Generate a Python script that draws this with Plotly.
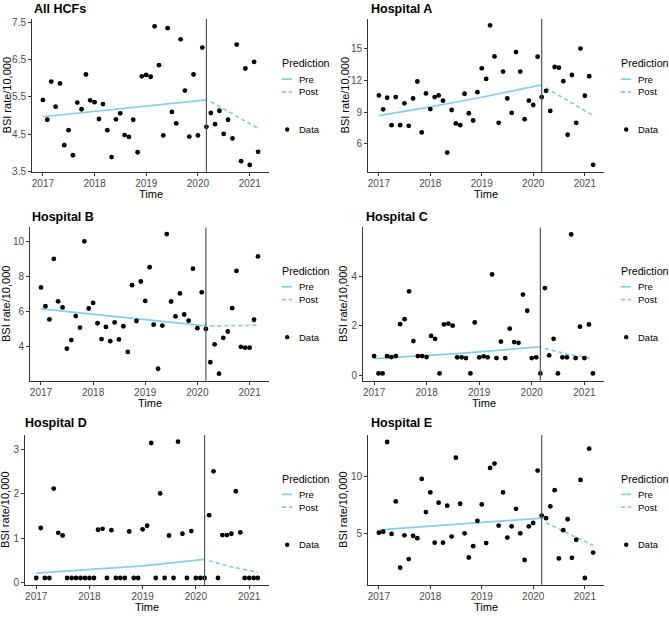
import plotly.graph_objects as go
import pandas as pd

# ---------------- data ----------------
months = pd.date_range("2017-01-01", periods=51, freq="MS")
intervention = "2020-03-01"

panel_titles = ["All HCFs", "Hospital A", "Hospital B", "Hospital C", "Hospital D", "Hospital E"]

all_hcfs = [5.42, 4.89, 5.91, 5.24, 5.86, 4.21, 4.61, 3.94, 5.35, 5.17,
            6.10, 5.41, 5.36, 4.91, 5.31, 4.61, 3.89, 4.90, 5.06, 4.48,
            4.43, 4.89, 4.02, 6.05, 6.09, 6.04, 7.39, 6.35, 4.47, 7.34,
            5.10, 4.79, 7.04, 5.67, 4.44, 6.10, 4.47, 6.82, 4.70, 5.07,
            4.77, 5.13, 4.51, 4.89, 4.39, 6.90, 3.78, 6.26, 3.68, 6.44,
            4.03]
hospital_a = [10.58, 9.26, 10.36, 7.76, 10.42, 7.76, 9.83, 7.70, 10.30, 11.90,
              7.07, 10.77, 9.29, 10.42, 10.58, 10.08, 5.16, 9.20, 7.92, 7.76,
              10.74, 8.89, 8.20, 10.89, 13.15, 12.15, 17.23, 14.28, 7.98, 12.84,
              10.30, 8.92, 14.69, 12.84, 8.32, 10.08, 9.67, 14.25, 10.42, 11.02,
              9.11, 13.28, 13.21, 11.93, 6.85, 12.52, 7.98, 15.03, 10.55, 12.40,
              4.00]
hospital_b = [7.39, 6.32, 5.57, 9.02, 6.60, 6.25, 3.90, 4.39, 5.76, 5.10,
              10.02, 6.19, 6.51, 5.35, 4.45, 5.14, 4.33, 5.40, 4.43, 5.18,
              3.72, 7.52, 5.48, 7.73, 6.62, 8.54, 5.27, 2.76, 5.22, 10.43,
              6.59, 5.74, 7.05, 5.85, 5.50, 8.46, 5.07, 7.11, 5.03, 3.13,
              4.15, 2.48, 4.52, 4.88, 6.21, 8.33, 4.01, 3.96, 3.96, 5.55,
              9.16]
hospital_c = [0.79, 0.09, 0.09, 0.79, 0.75, 0.79, 2.07, 2.27, 3.39, 1.39,
              0.79, 0.79, 0.75, 1.60, 1.48, 0.09, 2.06, 2.09, 2.01, 0.74,
              0.74, 0.71, 0.09, 2.14, 0.74, 0.78, 0.74, 4.07, 0.71, 1.37,
              0.71, 1.89, 1.35, 1.32, 3.26, 2.61, 0.71, 0.74, 0.09, 3.52,
              0.82, 1.48, 0.09, 0.74, 0.74, 5.68, 0.71, 1.97, 0.71, 2.06,
              0.09]
hospital_d = [0.10, 1.23, 0.10, 0.10, 2.12, 1.12, 1.06, 0.10, 0.10, 0.10,
              0.10, 0.10, 0.10, 0.10, 1.19, 1.21, 0.10, 1.18, 0.10, 0.10,
              0.10, 1.15, 0.10, 0.10, 1.20, 1.28, 3.15, 0.10, 2.01, 0.10,
              1.06, 0.10, 3.18, 1.10, 0.10, 1.16, 0.10, 0.10, 0.10, 1.52,
              2.51, 0.10, 1.07, 1.07, 1.10, 2.06, 1.13, 0.10, 0.10, 0.10,
              0.10]
hospital_e = [5.03, 5.11, 12.99, 4.92, 7.77, 1.95, 4.80, 2.71, 4.75, 4.55,
              9.75, 6.84, 8.56, 4.15, 7.66, 4.15, 7.40, 4.69, 11.61, 7.57,
              4.97, 2.85, 3.84, 6.07, 7.51, 4.12, 10.71, 11.10, 5.65, 8.56,
              4.60, 5.59, 7.12, 4.97, 2.63, 5.59, 5.88, 10.48, 6.53, 6.30,
              7.34, 8.76, 2.77, 5.25, 6.21, 2.82, 4.41, 9.66, 1.05, 12.40,
              3.28]

# fitted trend lines (month index -> value)
pre_idx = [[0, 38], [0, 12, 24, 38], [0, 38], [0, 19, 38], [0, 12, 24, 38], [0, 38]]
pre_val = [[4.97, 5.42], [8.67, 9.50, 10.41, 11.58], [6.17, 5.20],
           [0.69, 0.89, 1.16], [0.21, 0.285, 0.375, 0.52], [5.28, 6.30]]
post_idx = [[39, 50], [39, 50], [39, 50], [39, 44, 50], [39, 44, 50], [39, 50]]
post_val = [[5.37, 4.66], [11.30, 8.67], [5.20, 5.23],
            [1.10, 0.87, 0.69], [0.49, 0.35, 0.23], [5.90, 3.90]]

y_ranges = [[3.49, 7.59], [3.31, 17.85], [2.08, 10.81], [-0.2, 5.96], [-0.055, 3.33], [0.45, 13.6]]
y_ticks = [[3.5, 4.5, 5.5, 6.5, 7.5], [6, 9, 12, 15], [4, 6, 8, 10], [0, 2, 4], [0, 1, 2, 3], [5, 10]]
y_ticktext = [["3.5", "4.5", "5.5", "6.5", "7.5"], ["6", "9", "12", "15"], ["4", "6", "8", "10"],
              ["0", "2", "4"], ["0", "1", "2", "3"], ["5", "10"]]
x_tickvals = ["2017-01-01", "2018-01-01", "2019-01-01", "2020-01-01", "2021-01-01"]
x_ticktext = ["2017", "2018", "2019", "2020", "2021"]

legend_title = "Prediction"
legend_lines = ["Pre", "Post"]
legend_points = "Data"

series = [all_hcfs, hospital_a, hospital_b, hospital_c, hospital_d, hospital_e]

# ---------------- layout geometry (pixels) ----------------
W, H = 669, 619
# (left, right, top, bottom) of each panel
boxes = [(32, 269, 17, 172), (368, 604, 17, 172),
         (30, 269, 228, 383), (363, 604, 228, 383),
         (25, 269, 438, 589.5), (368, 604, 438, 589.5)]
title_pos = [(32, 7), (369, 7), (30, 217), (364, 217), (23, 426), (369, 426)]
ytitle_x = [7, 345, 6, 343, 5, 343]
xtitle_y = [194.5, 194.5, 405.5, 405.5, None, None]   # None -> sits on the page bottom
legend_pos = [(281, 62), (620, 62), (281, 272), (620, 272), (281, 482), (620, 482)]

FONT = "Liberation Sans, Arial, sans-serif"
LINE_BLUE = "#87CEEB"
AXIS_COL = "#333333"
DASH = "4px,3px"


def px(x):
    return x / W


def py(y):
    return 1 - y / H


fig = go.Figure()
shapes, annotations = [], []
layout = dict(
    width=W, height=H, margin=dict(l=0, r=0, t=0, b=0),
    paper_bgcolor="white", plot_bgcolor="white",
    font=dict(family=FONT, color="black"),
    showlegend=False,
)

for i in range(6):
    n = "" if i == 0 else str(i + 1)
    xa, ya = "x" + n, "y" + n
    l, r, t, b = boxes[i]

    fig.add_trace(go.Scatter(
        x=[months[k] for k in pre_idx[i]], y=pre_val[i], mode="lines",
        line=dict(color=LINE_BLUE, width=1.7), name="Pre",
        xaxis=xa, yaxis=ya, hoverinfo="skip"))
    fig.add_trace(go.Scatter(
        x=[months[k] for k in post_idx[i]], y=post_val[i], mode="lines",
        line=dict(color=LINE_BLUE, width=1.7, dash=DASH), name="Post",
        xaxis=xa, yaxis=ya, hoverinfo="skip"))
    fig.add_trace(go.Scatter(
        x=months, y=series[i], mode="markers",
        marker=dict(color="black", size=4.8), name="Data",
        xaxis=xa, yaxis=ya))

    layout["xaxis" + n] = dict(
        domain=[px(l), px(r)], anchor=ya, type="date",
        range=["2016-10-16", "2021-05-17"],
        tickvals=x_tickvals, ticktext=x_ticktext,
        showline=True, linecolor=AXIS_COL, linewidth=1,
        ticks="outside", ticklen=3, tickcolor=AXIS_COL,
        ticklabelstandoff=-1,
        tickfont=dict(size=10, color="#4D4D4D"),
        showgrid=False, zeroline=False,
    )
    layout["yaxis" + n] = dict(
        domain=[py(b), py(t)], anchor=xa,
        range=y_ranges[i], tickvals=y_ticks[i], ticktext=y_ticktext[i],
        showline=True, linecolor=AXIS_COL, linewidth=1,
        ticks="outside", ticklen=3, tickcolor=AXIS_COL,
        tickfont=dict(size=10, color="#4D4D4D"),
        showgrid=False, zeroline=False,
    )
    # intervention line
    shapes.append(dict(
        type="line", xref=xa, yref=ya + " domain", x0=intervention, x1=intervention,
        y0=0, y1=1, line=dict(color="#555555", width=1.2)))
    # panel title
    tx, ty = title_pos[i]
    annotations.append(dict(
        text="<b>" + panel_titles[i] + "</b>", xref="paper", yref="paper",
        x=px(tx), y=py(ty), xanchor="left", yanchor="middle", showarrow=False,
        font=dict(size=12.5, color="black", family=FONT)))
    # axis titles
    if xtitle_y[i] is None:
        annotations.append(dict(
            text="Time", xref="paper", yref="paper",
            x=px((l + r) / 2), y=0, xanchor="center", yanchor="bottom", borderpad=0,
            showarrow=False, font=dict(size=11, color="black", family=FONT)))
    else:
        annotations.append(dict(
            text="Time", xref="paper", yref="paper",
            x=px((l + r) / 2), y=py(xtitle_y[i]), xanchor="center", yanchor="middle",
            showarrow=False, font=dict(size=11, color="black", family=FONT)))
    annotations.append(dict(
        text="BSI rate/10,000", xref="paper", yref="paper", textangle=-90,
        x=px(ytitle_x[i]), y=py((t + b) / 2), xanchor="center", yanchor="middle",
        showarrow=False, font=dict(size=11, color="black", family=FONT)))
    # legend (drawn per panel, ggplot style)
    lx, ly = legend_pos[i]
    annotations.append(dict(
        text=legend_title, xref="paper", yref="paper",
        x=px(lx - 1), y=py(ly), xanchor="left", yanchor="middle", showarrow=False,
        font=dict(size=10.7, color="black", family=FONT)))
    for j, (lab, dash) in enumerate(zip(legend_lines, ["solid", DASH])):
        yy = ly + 16 + 13 * j
        shapes.append(dict(
            type="line", xref="paper", yref="paper",
            x0=px(lx + 1), x1=px(lx + 11), y0=py(yy), y1=py(yy),
            line=dict(color=LINE_BLUE, width=1.7, dash=dash)))
        annotations.append(dict(
            text=lab, xref="paper", yref="paper",
            x=px(lx + 16), y=py(yy), xanchor="left", yanchor="middle", showarrow=False,
            font=dict(size=9.5, color="black", family=FONT)))
    yy = ly + 67
    shapes.append(dict(
        type="circle", xref="paper", yref="paper", fillcolor="black",
        line=dict(width=0), x0=px(lx + 4), x1=px(lx + 8.4), y0=py(yy + 2.2), y1=py(yy - 2.2)))
    annotations.append(dict(
        text=legend_points, xref="paper", yref="paper",
        x=px(lx + 16), y=py(yy), xanchor="left", yanchor="middle", showarrow=False,
        font=dict(size=9.5, color="black", family=FONT)))

layout["shapes"] = shapes
layout["annotations"] = annotations
fig.update_layout(**layout)
fig.write_html("out.html", config={"displayModeBar": False},
               post_script="document.body.style.margin='0';")
